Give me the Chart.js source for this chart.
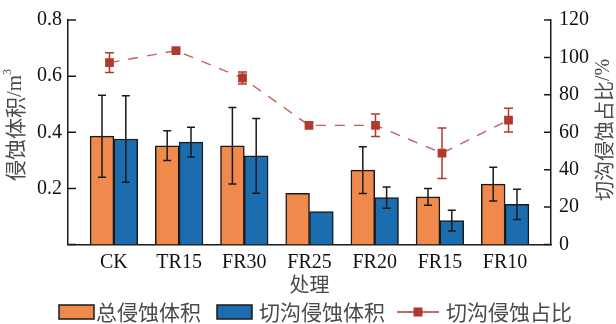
<!DOCTYPE html>
<html>
<head>
<meta charset="utf-8">
<script src="https://cdn.jsdelivr.net/npm/chart.js@4/dist/chart.umd.min.js"></script>
<style>
  html, body { margin: 0; padding: 0; background: #fff; }
  #wrap { width: 616px; height: 324px; position: relative; }
</style>
</head>
<body>
<div id="wrap"><canvas id="c" width="616" height="324"></canvas></div>
<script>
// Treatments
const categories = ['CK', 'TR15', 'FR30', 'FR25', 'FR20', 'FR15', 'FR10'];
// Total erosion volume (m³) and its error
const totalVolume = [0.386, 0.352, 0.352, 0.182, 0.265, 0.170, 0.215];
const totalErr    = [0.146, 0.053, 0.136, null, 0.083, 0.030, 0.060];
// Gully erosion volume (m³) and its error
const gullyVolume = [0.376, 0.365, 0.316, 0.117, 0.167, 0.085, 0.143];
const gullyErr    = [0.154, 0.053, 0.133, null, 0.038, 0.037, 0.054];
// Share of gully erosion (%) and its error
const gullyShare  = [97.2, 103.6, 89.0, 63.7, 63.7, 48.8, 66.5];
const shareErr    = [5.3, 0.8, 3.2, null, 6.0, 13.5, 6.3];
// Axis tick values
const volumeTicks = [0, 0.2, 0.4, 0.6, 0.8];
const shareTicks  = [0, 20, 40, 60, 80, 100, 120];

const ORANGE = '#ef8a4c';
const BLUE   = '#1b6db0';
const RED    = '#b03a2e';
const EDGE   = '#1a1a1a';
const SERIF  = '"Liberation Serif", "Times New Roman", serif';
const CJK    = '"Noto Sans CJK SC", "Noto Sans", sans-serif';

const toPoints = vals => vals.map((v, i) => ({ x: i, y: v }));

// Vertical error bars with caps, drawn from each dataset's errors array
const errorBars = {
  id: 'errorBars',
  beforeDatasetDraw(chart, args) {
    const ds = chart.data.datasets[args.index];
    if (ds.errors && ds.errorsBehind) drawErrors(chart, args.meta, ds);
  },
  afterDatasetDraw(chart, args) {
    const ds = chart.data.datasets[args.index];
    if (ds.errors && !ds.errorsBehind) drawErrors(chart, args.meta, ds);
  }
};
function drawErrors(chart, meta, ds) {
  const ctx = chart.ctx;
  const yScale = chart.scales[meta.yAxisID];
  const cap = ds.errorCap;
  ctx.save();
  ctx.strokeStyle = ds.errorColor;
  ctx.lineWidth = 1.5;
  meta.data.forEach((el, i) => {
    const e = ds.errors[i];
    if (e == null) return;
    const v = ds.data[i].y;
    const x = el.x;
    const top = yScale.getPixelForValue(v + e);
    const bot = yScale.getPixelForValue(v - e);
    ctx.beginPath();
    ctx.moveTo(x, top); ctx.lineTo(x, bot);
    ctx.moveTo(x - cap, top); ctx.lineTo(x + cap, top);
    ctx.moveTo(x - cap, bot); ctx.lineTo(x + cap, bot);
    ctx.stroke();
  });
  ctx.restore();
}

// Inward tick marks, axis titles and the legend row
const decorations = {
  id: 'decorations',
  afterDraw(chart) {
    const ctx = chart.ctx;
    const area = chart.chartArea;
    const y = chart.scales.y, y2 = chart.scales.y2;
    ctx.save();
    ctx.strokeStyle = EDGE;
    ctx.lineWidth = 1.5;
    ctx.beginPath();
    volumeTicks.forEach(v => {
      const p = y.getPixelForValue(v);
      ctx.moveTo(area.left, p); ctx.lineTo(area.left + 8, p);
    });
    shareTicks.forEach(v => {
      const p = y2.getPixelForValue(v);
      ctx.moveTo(area.right, p); ctx.lineTo(area.right - 7, p);
    });
    ctx.stroke();

    // axis titles
    ctx.fillStyle = '#4a4a4a';
    ctx.textBaseline = 'middle';
    ctx.font = '20px ' + CJK;
    ctx.textAlign = 'center';
    ctx.fillText('处理', (area.left + area.right) / 2, 284);

    drawRotated(ctx, 15, 125, [
      { t: '侵蚀体积', f: '21px ' + CJK, dy: 0 },
      { t: '/m', f: '21px ' + SERIF, dy: 0 },
      { t: '3', f: '12px ' + SERIF, dy: -7 }
    ]);
    drawRotated(ctx, 604, 130, [
      { t: '切沟侵蚀占比', f: '20px ' + CJK, dy: 0 },
      { t: '/%', f: '20px ' + SERIF, dy: 0 }
    ]);

    // legend
    const ly = 312;
    const box = (x, color) => {
      ctx.fillStyle = color;
      ctx.fillRect(x, ly - 7, 35, 14);
      ctx.strokeStyle = EDGE;
      ctx.lineWidth = 1.5;
      ctx.strokeRect(x, ly - 7, 35, 14);
    };
    ctx.font = '21px ' + CJK;
    ctx.textAlign = 'left';
    box(59, ORANGE);
    ctx.fillStyle = '#4a4a4a';
    ctx.fillText('总侵蚀体积', 96, ly);
    box(217, BLUE);
    ctx.fillStyle = '#4a4a4a';
    ctx.fillText('切沟侵蚀体积', 259, ly);
    ctx.strokeStyle = RED;
    ctx.lineWidth = 1.5;
    ctx.beginPath(); ctx.moveTo(397, ly); ctx.lineTo(439, ly); ctx.stroke();
    ctx.fillStyle = RED;
    ctx.fillRect(418 - 4.5, ly - 4.5, 9, 9);
    ctx.fillStyle = '#4a4a4a';
    ctx.fillText('切沟侵蚀占比', 446, ly);
    ctx.restore();
  }
};
function drawRotated(ctx, cx, cy, parts) {
  ctx.save();
  ctx.translate(cx, cy);
  ctx.rotate(-Math.PI / 2);
  ctx.textAlign = 'left';
  ctx.textBaseline = 'middle';
  let total = 0;
  parts.forEach(p => { ctx.font = p.f; p.w = ctx.measureText(p.t).width; total += p.w; });
  let x = -total / 2;
  parts.forEach(p => { ctx.font = p.f; ctx.fillText(p.t, x, p.dy); x += p.w; });
  ctx.restore();
}

function build() {
  new Chart(document.getElementById('c'), {
    data: {
      datasets: [
        {
          type: 'line',
          label: '切沟侵蚀占比',
          data: toPoints(gullyShare),
          xAxisID: 'x2', yAxisID: 'y2',
          order: 0,
          borderColor: 'rgba(176,58,46,0.8)',
          borderWidth: 1.4,
          borderDash: [10, 9],
          pointStyle: 'rect',
          pointRadius: 6.2,
          pointBackgroundColor: RED,
          pointBorderColor: RED,
          pointBorderWidth: 0,
          tension: 0,
          errors: shareErr, errorColor: RED, errorCap: 4.5, errorsBehind: true
        },
        {
          type: 'bar',
          label: '总侵蚀体积',
          data: toPoints(totalVolume),
          xAxisID: 'x', yAxisID: 'y',
          order: 1,
          backgroundColor: ORANGE,
          borderColor: EDGE,
          borderWidth: 1.5,
          barThickness: 23.8,
          errors: totalErr, errorColor: EDGE, errorCap: 4
        },
        {
          type: 'bar',
          label: '切沟侵蚀体积',
          data: toPoints(gullyVolume),
          xAxisID: 'x', yAxisID: 'y',
          order: 2,
          backgroundColor: BLUE,
          borderColor: EDGE,
          borderWidth: 1.5,
          barThickness: 23.8,
          errors: gullyErr, errorColor: EDGE, errorCap: 4
        }
      ]
    },
    options: {
      responsive: false,
      animation: false,
      devicePixelRatio: 1,
      layout: { padding: { top: 16, left: 0, right: 0, bottom: 0 } },
      plugins: { legend: { display: false }, tooltip: { enabled: false } },
      scales: {
        x: {
          type: 'linear',
          position: 'bottom',
          min: -0.704, max: 6.704,
          offset: false,
          grid: { display: false, drawTicks: false },
          border: { display: true, color: EDGE, width: 1.5 },
          afterBuildTicks: s => { s.ticks = categories.map((_, i) => ({ value: i })); },
          afterFit: s => { s.height = 79.5; },
          ticks: {
            callback: v => categories[v],
            font: { family: SERIF, size: 20 },
            color: '#111',
            padding: 6,
            maxRotation: 0,
            autoSkip: false
          }
        },
        x2: {
          type: 'linear',
          display: false,
          min: -0.624, max: 6.639,
          offset: false
        },
        y: {
          type: 'linear',
          position: 'left',
          min: 0, max: 0.8,
          grid: { display: false, drawTicks: false },
          border: { display: true, color: EDGE, width: 1.5 },
          afterBuildTicks: s => { s.ticks = volumeTicks.map(v => ({ value: v })); },
          afterFit: s => { s.width = 68; },
          ticks: {
            callback: v => (v === 0 ? '' : v.toFixed(1)),
            font: { family: SERIF, size: 20 },
            color: '#111',
            padding: 6
          }
        },
        y2: {
          type: 'linear',
          position: 'right',
          min: 0, max: 120,
          grid: { display: false, drawTicks: false },
          border: { display: true, color: EDGE, width: 1.5 },
          afterBuildTicks: s => { s.ticks = shareTicks.map(v => ({ value: v })); },
          afterFit: s => { s.width = 65; },
          ticks: {
            callback: v => String(v),
            font: { family: SERIF, size: 20 },
            color: '#111',
            padding: 8
          }
        }
      }
    },
    plugins: [errorBars, decorations]
  });
}

Promise.all([
  document.fonts.load('20px "Liberation Serif"'),
  document.fonts.load('20px "Noto Sans CJK SC"', '侵蚀体积处理切沟占比总')
]).then(build, build);
</script>
</body>
</html>
